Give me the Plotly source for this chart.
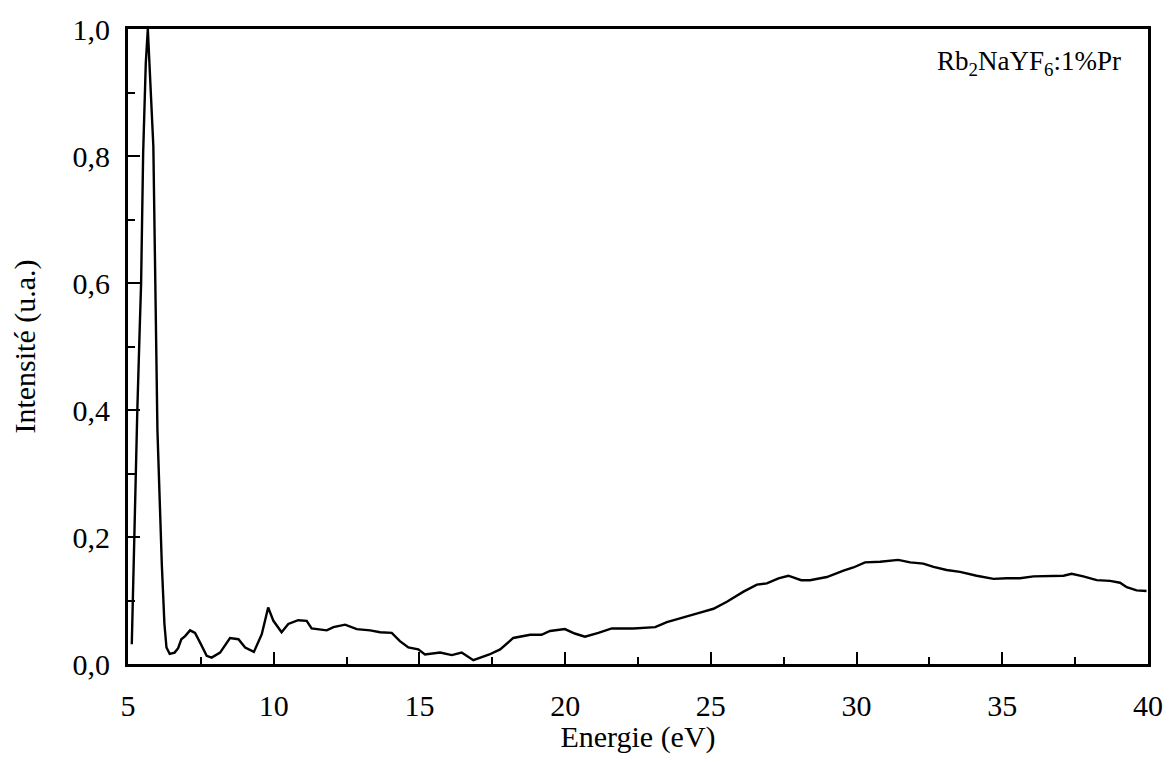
import plotly.graph_objects as go

# excitation spectrum
energie = [5.13, 5.21, 5.32, 5.39, 5.45, 5.52, 5.61, 5.68, 5.73, 5.79, 5.87, 5.90, 5.96,
           6.01, 6.16, 6.25, 6.32, 6.43, 6.60, 6.72, 6.83, 6.96, 7.13, 7.30, 7.47,
           7.70, 7.87, 8.16, 8.50, 8.79, 9.02, 9.32, 9.59, 9.81, 9.99, 10.27, 10.50,
           10.84, 11.13, 11.30, 11.82, 12.05, 12.45, 12.85, 13.31, 13.65, 14.05, 14.33,
           14.62, 14.96, 15.19, 15.71, 16.11, 16.45, 16.85, 17.40, 17.77, 18.22, 18.80,
           19.19, 19.48, 19.99, 20.33, 20.68, 21.14, 21.60, 22.34, 23.09, 23.49, 24.06,
           24.63, 25.09, 25.55, 26.12, 26.58, 26.92, 27.32, 27.66, 28.10, 28.40, 28.98,
           29.55, 29.89, 30.29, 30.81, 31.43, 31.84, 32.29, 32.64, 33.09, 33.55, 34.12,
           34.70, 35.15, 35.61, 36.07, 36.64, 37.10, 37.38, 37.78, 38.24, 38.70, 39.04,
           39.27, 39.61, 39.95]
intensite = [0.031, 0.20, 0.40, 0.51, 0.60, 0.804, 0.946, 1.0, 0.96, 0.893, 0.815, 0.70, 0.51,
             0.368, 0.157, 0.063, 0.026, 0.016, 0.018, 0.025, 0.039, 0.044, 0.053, 0.049, 0.034,
             0.013, 0.010, 0.018, 0.041, 0.039, 0.026, 0.019, 0.047, 0.089, 0.068, 0.050, 0.063,
             0.069, 0.068, 0.056, 0.053, 0.058, 0.062, 0.055, 0.053, 0.050, 0.049, 0.036,
             0.026, 0.023, 0.015, 0.018, 0.014, 0.018, 0.006, 0.015, 0.023, 0.041, 0.046,
             0.046, 0.052, 0.055, 0.048, 0.043, 0.049, 0.056, 0.056, 0.058, 0.066, 0.073,
             0.081, 0.087, 0.098, 0.114, 0.125, 0.127, 0.135, 0.139, 0.132, 0.132, 0.137,
             0.147, 0.152, 0.160, 0.161, 0.164, 0.160, 0.158, 0.153, 0.148, 0.145, 0.139,
             0.134, 0.135, 0.135, 0.138, 0.139, 0.139, 0.142, 0.138, 0.132, 0.131, 0.128,
             0.121, 0.116, 0.115]

x_ticks = [5, 10, 15, 20, 25, 30, 35, 40]
x_minor = [7.5, 12.5, 17.5, 22.5, 27.5, 32.5, 37.5]
y_ticks = [0.0, 0.2, 0.4, 0.6, 0.8, 1.0]
y_minor = [0.1, 0.3, 0.5, 0.7, 0.9]

font_family = "Liberation Serif, Times New Roman, serif"

fig = go.Figure()
fig.add_trace(go.Scatter(x=energie, y=intensite, mode="lines",
                         line=dict(color="black", width=2.4), showlegend=False))

fig.add_annotation(text="Rb<sub>2</sub>NaYF<sub>6</sub>:1%Pr", xref="paper", yref="paper",
                   x=0.975, y=0.946, xanchor="right", yanchor="middle", showarrow=False,
                   font=dict(family=font_family, size=27, color="black"))

# page body has an 8px margin, so the figure is a bit smaller than the window
fig.update_layout(
    width=1156, height=746,
    margin=dict(l=120, r=16, t=21, b=90),
    paper_bgcolor="white", plot_bgcolor="white",
    font=dict(family=font_family, size=30, color="black"),
    separators=", ",
)
fig.update_xaxes(
    range=[5, 40], tickvals=x_ticks, ticks="inside", ticklen=12, tickwidth=2,
    tickcolor="black", showline=True, linecolor="black", linewidth=3, mirror=True,
    showgrid=False, zeroline=False, tickfont=dict(size=30), automargin=False,
    ticklabelstandoff=13,
    minor=dict(tickvals=x_minor, ticks="inside", ticklen=7, tickwidth=2, tickcolor="black"),
    title=dict(text="Energie (eV)", standoff=13, font=dict(size=30)),
)
fig.update_yaxes(
    range=[0, 1.0], tickvals=y_ticks, tickformat=".1f", ticks="inside", ticklen=12,
    tickwidth=2, tickcolor="black", showline=True, linecolor="black", linewidth=3,
    mirror=True, showgrid=False, zeroline=False, tickfont=dict(size=30), automargin=False,
    ticklabelstandoff=9,
    minor=dict(tickvals=y_minor, ticks="inside", ticklen=7, tickwidth=2, tickcolor="black"),
    title=dict(text="Intensité (u.a.)", standoff=33, font=dict(size=30)),
)

fig.write_html("out.html")
